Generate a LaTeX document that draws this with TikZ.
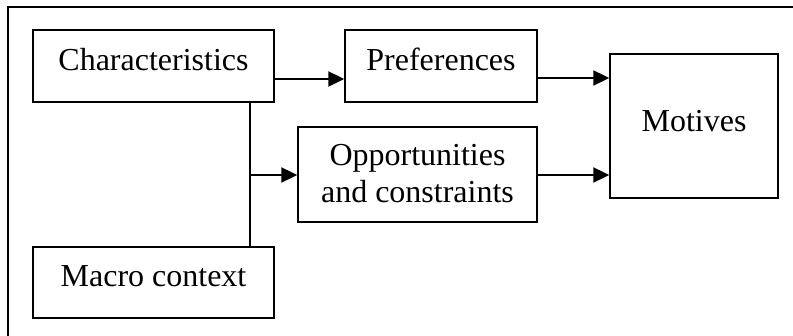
\documentclass[tikz,border=0pt]{standalone}
\usepackage{fontspec}
\setmainfont{Liberation Serif}
\usetikzlibrary{arrows.meta}
\begin{document}
\begin{tikzpicture}[x=1pt,y=-1pt,
  box/.style={draw=black, line width=1.4pt, inner sep=0pt, anchor=base,
    font=\fontsize{32}{37}\selectfont},
  arr/.style={line width=2pt, -{Triangle[length=16pt,width=15pt]}},
  conn/.style={line width=2pt}]
\useasboundingbox (0,0) rectangle (793,336);
\draw[line width=2pt] (8,336) -- (8,7) -- (793,7);
\node[box, minimum width=241pt, text height=41pt, text depth=31pt] (char) at (153.5,71) {Characteristics};
\node[box, minimum width=192pt, text height=41pt, text depth=31pt] (pref) at (441,71) {Preferences};
\node[box, minimum width=239pt, text height=39pt, text depth=56pt] (opp) at (417.5,166)
  {\begin{tabular}[t]{@{}c@{}}Opportunities\\and constraints\end{tabular}};
\node[box, minimum width=168pt, text height=78pt, text depth=66pt] (mot) at (694,132) {Motives};
\node[box, minimum width=241pt, text height=40pt, text depth=31pt] (macro) at (153.5,287) {Macro context};
\coordinate (y79) at (0,79);
\coordinate (y78) at (0,78);
\coordinate (y175) at (0,175);
\coordinate (x250) at (250,0);
\coordinate (j) at (250,175);
\draw[arr] (char.east |- y79) -- (pref.west |- y79);
\draw[arr] (pref.east |- y78) -- (mot.west |- y78);
\draw[conn] (char.south -| x250) -- (macro.north -| x250);
\draw[arr] (j) -- (opp.west |- y175);
\draw[arr] (opp.east |- y175) -- (mot.west |- y175);
\end{tikzpicture}
\end{document}
